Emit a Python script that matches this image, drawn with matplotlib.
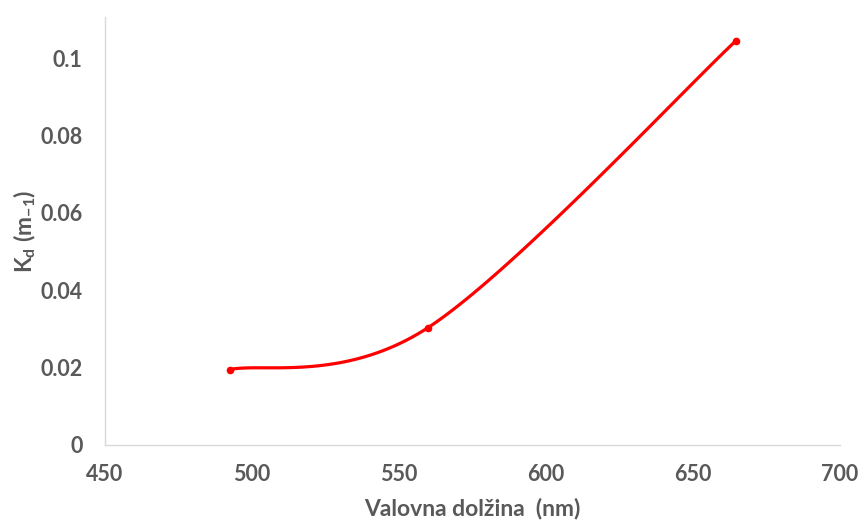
import numpy as np
import matplotlib
matplotlib.use("Agg")
import matplotlib.pyplot as plt

wavelength = [492.4, 559.8, 664.6]
kd = [0.0195, 0.0303, 0.1045]
xticks = [450, 500, 550, 600, 650, 700]
yticks = [0, 0.02, 0.04, 0.06, 0.08, 0.1]
ytick_labels = ["0", "0.02", "0.04", "0.06", "0.08", "0.1"]

plt.rcParams['font.family'] = ['Lato', 'DejaVu Sans']
plt.rcParams['mathtext.fontset'] = 'custom'
plt.rcParams['mathtext.rm'] = 'Lato:bold'
plt.rcParams['mathtext.bf'] = 'Lato:bold'
plt.rcParams['mathtext.default'] = 'rm'

grey = '#595959'
fs = 15.5
lfs = 16.5

def excel_smooth(x, y, n=60):
    P = np.column_stack([x, y]).astype(float)
    m = len(P)
    out = []
    for i in range(m - 1):
        p0 = P[i - 1] if i > 0 else P[i]
        p1 = P[i]
        p2 = P[i + 1]
        p3 = P[i + 2] if i + 2 < m else P[i + 1]
        c1 = p1 + (p2 - p0) / 6.0
        c2 = p2 - (p3 - p1) / 6.0
        t = np.linspace(0, 1, n)[:, None]
        seg = ((1 - t) ** 3) * p1 + 3 * ((1 - t) ** 2) * t * c1 + 3 * (1 - t) * t ** 2 * c2 + t ** 3 * p2
        out.append(seg if i == 0 else seg[1:])
    s = np.vstack(out)
    return s[:, 0], s[:, 1]

fig = plt.figure(figsize=(8.66, 5.21), dpi=100)
ax = fig.add_axes([0.1212, 0.1459, 0.970 - 0.1212, 0.967 - 0.1459])

sx, sy = excel_smooth(wavelength, kd)
ax.plot(sx, sy, color='#ff0000', lw=2.3, solid_capstyle='round')
ax.plot(wavelength, kd, 'o', color='#ff0000', ms=4.5)

ax.set_xlim(450, 700)
ax.set_ylim(0, 0.1106)
ax.set_xticks(xticks)
ax.set_xticklabels([str(v) for v in xticks])
ax.set_yticks(yticks)
ax.set_yticklabels(ytick_labels)
ax.tick_params(length=0, labelsize=fs, labelcolor=grey)
ax.tick_params(axis='y', pad=16)
ax.tick_params(axis='x', pad=14)
for lab in ax.get_xticklabels() + ax.get_yticklabels():
    lab.set_fontweight('bold')
for s in ['top', 'right']:
    ax.spines[s].set_visible(False)
for s in ['left', 'bottom']:
    ax.spines[s].set_color('#d9d9d9')
    ax.spines[s].set_linewidth(1)

ax.set_xlabel('Valovna dolžina  (nm)', fontsize=lfs, fontweight='bold', color=grey, labelpad=9)
ax.set_ylabel(r'K$_{\mathrm{d}}$ (m$_{\mathrm{-1}}$)', fontsize=lfs, fontweight='bold', color=grey, labelpad=2)

fig.savefig('out.png', dpi=100)
